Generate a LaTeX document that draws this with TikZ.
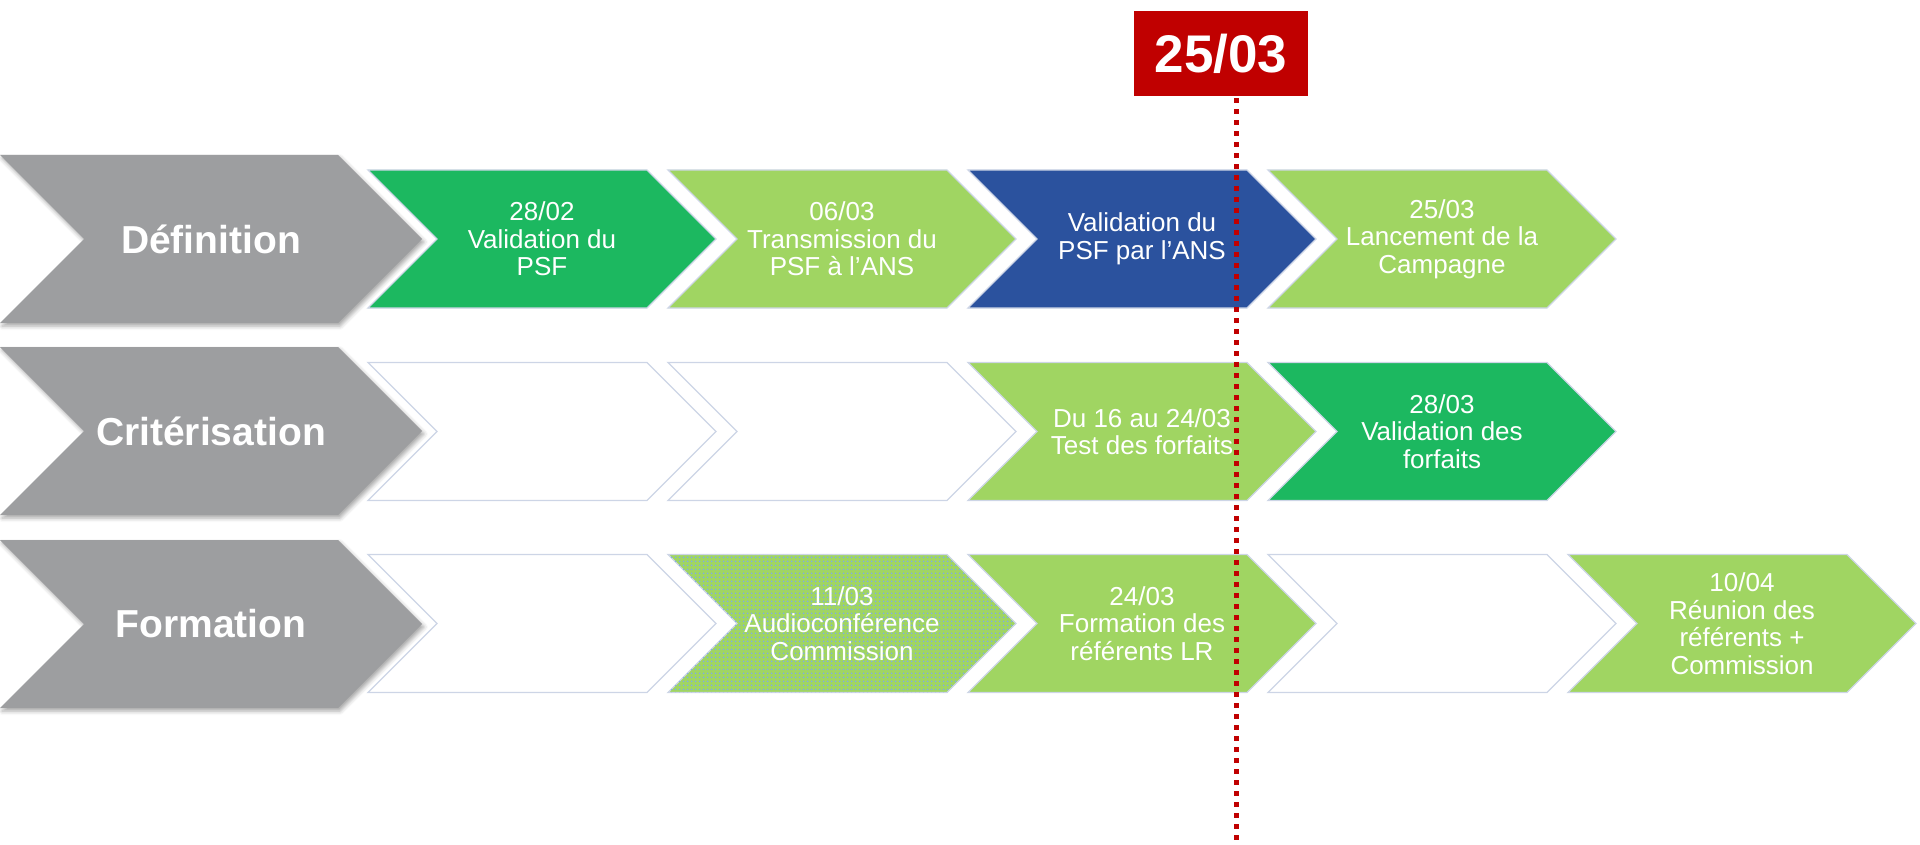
\documentclass[tikz,border=0pt]{standalone}
\usepackage{fontspec}
\setmainfont{Liberation Sans}
\usetikzlibrary{patterns.meta,shadows.blur}
\definecolor{greyc}{RGB}{157,158,160}
\definecolor{dgreen}{RGB}{28,184,96}
\definecolor{lgreen}{RGB}{160,213,98}
\definecolor{bluec}{RGB}{43,82,158}
\definecolor{redc}{RGB}{192,0,0}
\definecolor{outl}{RGB}{205,213,230}
\definecolor{dotblue}{RGB}{125,168,240}
\tikzset{
  lbl/.style={align=center,text=white,inner sep=0pt,font=\fontsize{26}{27.5}\selectfont},
  glbl/.style={text=white,inner sep=0pt,font=\fontsize{39}{44}\selectfont\bfseries},
  greyfill/.style={fill=greyc,blur shadow={shadow xshift=2pt,shadow yshift=-3pt,shadow blur radius=4pt,shadow opacity=35}},
  emptyc/.style={fill=white,draw=outl,line width=1.3pt},
  dgc/.style={fill=dgreen,draw=outl,line width=1.3pt},
  lgc/.style={fill=lgreen,draw=outl,line width=1.3pt},
  bc/.style={fill=bluec,draw=outl,line width=1.3pt},
  dotc/.style={fill=lgreen,draw=outl,line width=1.3pt,postaction={pattern={Dots[radius=1pt,distance=4pt]},pattern color=dotblue}},
  datebox/.style={fill=redc,text=white,minimum width=174pt,minimum height=85pt,inner sep=0pt,font=\fontsize{53}{60}\selectfont\bfseries},
  dotline/.style={draw=redc,line width=5pt,dash pattern=on 5pt off 6pt}
}
\newcommand\chev[5]{%
  \draw[#3] (#1,#2-69) -- (#1+279,#2-69) -- (#1+348,#2) -- (#1+279,#2+69) -- (#1,#2+69) -- (#1+69,#2) -- cycle;
  \node[lbl] (#4) at (#1+174,#2) {#5};
}
\newcommand\greychev[3]{%
  \path[greyfill] (0,#1-84) -- (338,#1-84) -- (422,#1) -- (338,#1+84) -- (0,#1+84) -- (84,#1) -- cycle;
  \node[glbl] (#2) at (211,#1) {#3};
}
\begin{document}
\begin{tikzpicture}[x=1pt,y=-1pt]
\useasboundingbox (0,0) rectangle (1920,845);
% grey row heads
\greychev{239}{def}{Définition}
\greychev{431}{crit}{Critérisation}
\greychev{624}{form}{Formation}
% row 1
\chev{368}{239}{dgc}{a1}{28/02\\Validation du\\PSF}
\chev{668}{239}{lgc}{a2}{06/03\\Transmission du\\PSF à l’ANS}
\chev{968}{239}{bc}{a3}{Validation du\\PSF par l’ANS}
\chev{1268}{239}{lgc}{a4}{25/03\\Lancement de la\\Campagne}
% row 2
\chev{368}{431.5}{emptyc}{b1}{}
\chev{668}{431.5}{emptyc}{b2}{}
\chev{968}{431.5}{lgc}{b3}{Du 16 au 24/03\\Test des forfaits}
\chev{1268}{431.5}{dgc}{b4}{28/03\\Validation des\\forfaits}
% row 3
\chev{368}{623.5}{emptyc}{c1}{}
\chev{668}{623.5}{dotc}{c2}{11/03\\Audioconférence\\Commission}
\chev{968}{623.5}{lgc}{c3}{24/03\\Formation des\\référents LR}
\chev{1268}{623.5}{emptyc}{c4}{}
\chev{1568}{623.5}{lgc}{c5}{10/04\\Réunion des\\référents +\\Commission}
% date marker
\node[datebox] (date) at (1221,53.5) {25/03};
\coordinate (dotend) at (1236,845);
\draw[dotline] ([yshift=-2pt]dotend |- date.south) -- (dotend);
\end{tikzpicture}
\end{document}
